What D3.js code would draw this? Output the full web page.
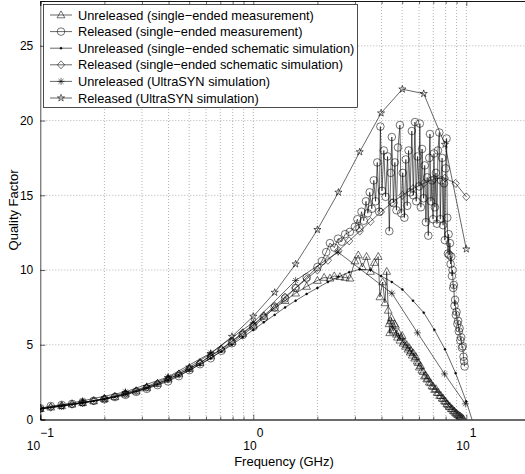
<!DOCTYPE html>
<html>
<head>
<meta charset="utf-8">
<script src="https://cdn.jsdelivr.net/npm/d3@7"></script>
<style>
  body { margin: 0; background: #fff; }
  svg { display: block; font-family: "Liberation Sans", Arial, sans-serif; }
</style>
</head>
<body>
<svg id="chart" width="525" height="474"></svg>
<script>
// series values, [frequency GHz, quality factor]
const unrelMeas = [
  [0.1,0.72],[0.112,0.82],[0.126,0.92],[0.141,1.02],[0.158,1.12],[0.178,1.24],[0.2,1.38],[0.224,1.52],
  [0.251,1.7],[0.282,1.9],[0.316,2.12],[0.355,2.4],[0.398,2.7],[0.447,3.05],[0.501,3.4],[0.562,3.8],
  [0.631,4.25],[0.708,4.7],[0.794,5.2],[0.891,5.75],[1,6.3],[1.12,6.9],[1.26,7.45],[1.41,7.95],
  [1.58,8.45],[1.78,8.9],[2,9.3],[2.15,9.5],[2.29,9.45],[2.4,9.6],[2.55,9.55],[2.7,9.5],[2.84,9.45],
  [3.0,10.6],[3.11,11.0],[3.25,10.2],[3.4,10.9],[3.55,9.9],[3.7,10.5],[3.86,10.9],[3.93,8.2],[4.05,9.2],
  [4.15,7.8],[4.23,9.9],[4.3,7.3],[4.34,6.4],[4.37,5.8],[4.41,6.6],[4.45,6.8],[4.5,6.0],[4.55,5.9],
  [4.6,6.4],[4.65,6.3],[4.7,5.7],[4.75,5.5],[4.81,5.8],[4.88,5.3],[4.94,5.5],[5.0,5.6],[5.05,5.1],
  [5.1,5.2],[5.18,4.9],[5.25,5.0],[5.32,4.7],[5.4,4.8],[5.45,4.5],[5.5,4.6],[5.57,4.3],[5.64,4.45],
  [5.72,4.1],[5.8,4.2],[5.88,3.9],[5.95,3.8],[6.02,3.5],[6.1,3.6],[6.18,3.3],[6.28,3.2],[6.36,2.9],
  [6.45,2.95],[6.52,2.7],[6.6,2.75],[6.7,2.5],[6.8,2.45],[6.9,2.25],[7.0,2.2],[7.1,2.0],[7.2,2.05],
  [7.3,1.8],[7.4,1.8],[7.5,1.6],[7.6,1.6],[7.7,1.42],[7.8,1.4],[7.9,1.25],[8.0,1.2],[8.1,1.05],
  [8.2,1.0],[8.3,0.88],[8.4,0.85],[8.5,0.72],[8.6,0.7],[8.7,0.58],[8.8,0.55],[8.9,0.45],[9.0,0.4],
  [9.1,0.33],[9.2,0.3],[9.3,0.22],[9.4,0.2],[9.5,0.13],[9.6,0.1],[9.7,0.02]
];
const relMeas = [
  [0.1,0.75],[0.112,0.9],[0.126,0.98],[0.141,1.05],[0.158,1.15],[0.178,1.25],[0.2,1.35],[0.224,1.5],
  [0.251,1.65],[0.282,1.85],[0.316,2.05],[0.355,2.3],[0.398,2.55],[0.447,2.9],[0.501,3.3],[0.562,3.7],
  [0.631,4.1],[0.708,4.6],[0.794,5.1],[0.891,5.65],[1,6.2],[1.12,6.8],[1.26,7.5],[1.41,8.1],
  [1.58,8.8],[1.78,9.5],[2,10.2],[2.1,10.6],[2.2,11.2],[2.29,11.8],[2.4,11.5],[2.5,12.1],[2.6,11.9],
  [2.7,12.4],[2.84,12.55],[3.0,12.9],[3.08,13.4],[3.15,12.8],[3.22,13.9],[3.3,13.3],[3.38,14.6],
  [3.45,13.8],[3.52,15.2],[3.6,14.1],[3.68,16.0],[3.75,14.6],[3.82,17.2],[3.9,13.9],[3.95,19.6],
  [4.02,15.3],[4.1,18.0],[4.18,14.9],[4.27,17.6],[4.35,12.6],[4.42,16.5],[4.47,18.9],[4.55,14.5],
  [4.62,17.2],[4.7,14.0],[4.78,18.2],[4.88,19.7],[4.95,13.8],[5.03,16.5],[5.12,13.5],[5.2,17.4],
  [5.28,14.3],[5.36,18.0],[5.45,15.2],[5.55,19.3],[5.64,15.0],[5.74,19.9],[5.82,14.6],[5.9,17.6],
  [6.0,15.6],[6.05,19.8],[6.12,14.2],[6.2,18.1],[6.3,14.8],[6.38,17.0],[6.46,13.2],[6.55,16.2],
  [6.63,12.3],[6.7,17.5],[6.75,19.1],[6.82,14.6],[6.9,16.0],[6.98,13.4],[7.05,17.8],[7.12,14.2],
  [7.2,16.5],[7.28,13.1],[7.36,18.0],[7.47,19.2],[7.55,13.4],[7.62,16.0],[7.7,17.5],[7.78,13.0],
  [7.86,15.8],[7.93,12.0],[8.0,16.8],[8.08,18.8],[8.14,13.5],[8.2,11.1],[8.26,12.4],[8.32,11.0],
  [8.38,11.8],[8.44,10.4],[8.5,10.9],[8.56,9.6],[8.62,10.0],[8.68,8.8],[8.74,9.0],[8.8,7.6],
  [8.86,8.0],[8.93,7.0],[9.0,7.2],[9.08,6.4],[9.15,6.6],[9.22,5.9],[9.3,6.1],[9.38,5.3],[9.46,5.5],
  [9.54,4.8],[9.62,4.9],[9.7,4.2],[9.76,3.9],[9.82,3.55]
];
const unrelSchem = [
  [0.1,0.7],[0.112,0.8],[0.126,0.9],[0.141,1.0],[0.158,1.1],[0.178,1.22],[0.2,1.36],[0.224,1.5],
  [0.251,1.68],[0.282,1.88],[0.316,2.1],[0.355,2.35],[0.398,2.62],[0.447,2.95],[0.501,3.3],[0.562,3.68],
  [0.631,4.1],[0.708,4.55],[0.794,5.0],[0.891,5.5],[1,6.0],[1.12,6.5],[1.26,7.0],[1.41,7.5],
  [1.58,7.95],[1.78,8.4],[2,8.8],[2.24,9.2],[2.51,9.55],[2.82,9.85],[3.16,10.05],[3.55,10.0],
  [3.98,9.6],[4.47,9.2],[5.01,8.7],[5.62,7.95],[6.31,7.15],[7.08,6.0],[7.94,4.7],[8.91,3.1],
  [10,1.2],[11.2,-1.0]
];
const relSchem = [
  [0.1,0.72],[0.112,0.82],[0.126,0.92],[0.141,1.02],[0.158,1.13],[0.178,1.25],[0.2,1.4],[0.224,1.55],
  [0.251,1.73],[0.282,1.93],[0.316,2.15],[0.355,2.42],[0.398,2.7],[0.447,3.03],[0.501,3.4],[0.562,3.8],
  [0.631,4.25],[0.708,4.72],[0.794,5.25],[0.891,5.8],[1,6.35],[1.12,6.95],[1.26,7.6],[1.41,8.2],
  [1.58,8.8],[1.78,9.4],[2,10.0],[2.24,10.65],[2.51,11.3],[2.82,11.95],[3.16,12.6],[3.55,13.25],
  [3.98,13.9],[4.47,14.5],[5.01,15.0],[5.62,15.45],[6.31,15.8],[7.08,16.1],[7.94,16.15],[8.91,15.8],
  [10,14.9]
];
const unrelUltra = [
  [0.1,0.7],[0.158,1.25],[0.251,1.85],[0.398,2.85],[0.631,4.45],[1,6.5],[1.58,9.3],[2.5,11.2],
  [4.47,8.45],[5.9,5.8],[7.9,3.05],[9.9,1.05]
];
const relUltra = [
  [0.1,0.72],[0.126,0.88],[0.158,1.1],[0.2,1.4],[0.251,1.78],[0.316,2.2],[0.398,2.8],[0.501,3.5],
  [0.631,4.4],[0.794,5.55],[1,6.9],[1.26,8.5],[1.58,10.4],[2,12.7],[2.51,15.2],[3.16,17.9],
  [3.98,20.5],[5.01,22.1],[6.31,21.8],[7.94,18.4],[10,11.4]
];

const seriesNames = [
  "Unreleased (single\u2212ended measurement)",
  "Released (single\u2212ended measurement)",
  "Unreleased (single\u2212ended schematic simulation)",
  "Released (single\u2212ended schematic simulation)",
  "Unreleased (UltraSYN simulation)",
  "Released (UltraSYN simulation)"
];
const seriesMarkers = ["triangle", "circle", "point", "diamond", "asterisk", "star"];
const yTicks = [0, 5, 10, 15, 20, 25];
const xDecades = [0.1, 1, 10];
const xDecadeExp = ["\u22121", "0", "1"];
const xMinor = [0.2,0.3,0.4,0.5,0.6,0.7,0.8,0.9,2,3,4,5,6,7,8,9];

const allSeries = [unrelMeas, relMeas, unrelSchem, relSchem, unrelUltra, relUltra];

const padLeft = 40.3, padBottom = 419.5, padTop = 1;
const x = d3.scaleLog().domain([0.1, 20]).range([padLeft, padLeft + 213 * Math.log10(200)]);
const y = d3.scaleLinear().domain([0, 28]).range([padBottom, padTop]);

const svg = d3.select("#chart");

svg.append("defs").append("clipPath").attr("id", "plotclip")
  .append("rect").attr("x", padLeft).attr("y", padTop)
  .attr("width", x(20) - padLeft).attr("height", padBottom - padTop);

// grid
const grid = svg.append("g").attr("stroke", "#808080").attr("stroke-width", 0.6).attr("stroke-dasharray", "1,2");
grid.selectAll(".gx").data(xDecades.concat(xMinor).filter(d => d > 0.1)).enter().append("line")
  .attr("x1", d => x(d)).attr("x2", d => x(d)).attr("y1", padTop).attr("y2", padBottom);
grid.selectAll(".gy").data(yTicks.filter(d => d > 0)).enter().append("line")
  .attr("x1", padLeft).attr("x2", x(20)).attr("y1", d => y(d)).attr("y2", d => y(d));

// axes
const axX = svg.append("g").attr("transform", `translate(0,${padBottom})`)
  .call(d3.axisBottom(x).tickValues(xDecades).tickSize(-5).tickFormat(""));
const axXm = svg.append("g").attr("transform", `translate(0,${padBottom})`)
  .call(d3.axisBottom(x).tickValues(xMinor).tickSize(-3).tickFormat(""));
const axXt = svg.append("g").attr("transform", `translate(0,${padTop})`)
  .call(d3.axisTop(x).tickValues(xDecades).tickSize(-5).tickFormat(""));
const axXtm = svg.append("g").attr("transform", `translate(0,${padTop})`)
  .call(d3.axisTop(x).tickValues(xMinor).tickSize(-3).tickFormat(""));
const axY = svg.append("g").attr("transform", `translate(${padLeft},0)`)
  .call(d3.axisLeft(y).tickValues(yTicks).tickSize(-5).tickPadding(7));
[axX, axXm, axXt, axXtm, axY].forEach(g => {
  g.select(".domain").attr("stroke", "#000").attr("stroke-width", 0.7);
  g.selectAll(".tick line").attr("stroke", "#000").attr("stroke-width", 0.6);
});
axY.selectAll(".tick text").attr("font-size", 12).attr("fill", "#000")
  .attr("font-family", "Liberation Sans, Arial, sans-serif");

// x decade labels 10^n
xDecades.forEach((d, i) => {
  const t = svg.append("text").attr("x", x(d)).attr("y", 450).attr("text-anchor", "middle")
    .attr("font-size", 12).attr("fill", "#000");
  t.append("tspan").text("10");
  t.append("tspan").attr("dy", -13).attr("font-size", 12).text(xDecadeExp[i]);
});

svg.append("text").attr("x", 284).attr("y", 466).attr("text-anchor", "middle")
  .attr("font-size", 13).text("Frequency (GHz)");
svg.append("text").attr("transform", "translate(18,210) rotate(-90)").attr("text-anchor", "middle")
  .attr("font-size", 13).text("Quality Factor");

// markers
function markerPath(type) {
  const r = 3.6;
  if (type === "triangle") return `M0,${-r-0.5}L${r+0.3},${r-0.8}L${-r-0.3},${r-0.8}Z`;
  if (type === "circle") return d3.symbol(d3.symbolCircle, Math.PI * 3.8 * 3.8)();
  if (type === "diamond") return `M0,${-r-0.4}L${r},0L0,${r+0.4}L${-r},0Z`;
  if (type === "asterisk") return `M${-r},0H${r}M0,${-r}V${r}M${-r*0.7},${-r*0.7}L${r*0.7},${r*0.7}M${-r*0.7},${r*0.7}L${r*0.7},${-r*0.7}`;
  if (type === "star") return d3.symbol(d3.symbolStar, 16)();
  return d3.symbol(d3.symbolCircle, 3)();
}

const plot = svg.append("g").attr("clip-path", "url(#plotclip)");
const line = d3.line().x(d => x(d[0])).y(d => y(d[1]));

allSeries.forEach((data, i) => {
  const g = plot.append("g");
  g.append("path").datum(data).attr("d", line).attr("fill", "none")
    .attr("stroke", "#000").attr("stroke-width", 0.6);
  const type = seriesMarkers[i];
  g.selectAll("path.m").data(data.filter(d => d[1] >= -0.3)).enter().append("path")
    .attr("class", "m")
    .attr("transform", d => `translate(${x(d[0])},${y(d[1])})`)
    .attr("d", markerPath(type))
    .attr("fill", type === "point" ? "#000" : "none")
    .attr("stroke", "#000").attr("stroke-width", type === "star" ? 0.6 : 0.55);
});

// legend
const lg = svg.append("g");
lg.append("rect").attr("x", 43.5).attr("y", 4.5).attr("width", 314).attr("height", 103)
  .attr("fill", "#fff").attr("stroke", "#000").attr("stroke-width", 0.7);
seriesNames.forEach((name, i) => {
  const ly = 15 + i * 16.6;
  lg.append("line").attr("x1", 50).attr("x2", 72).attr("y1", ly).attr("y2", ly)
    .attr("stroke", "#000").attr("stroke-width", 0.6);
  const type = seriesMarkers[i];
  lg.append("path").attr("transform", `translate(61,${ly})`).attr("d", markerPath(type))
    .attr("fill", type === "point" ? "#000" : "none").attr("stroke", "#000").attr("stroke-width", 0.55);
  lg.append("text").attr("x", 78).attr("y", ly + 4.5).attr("font-size", 12.8).attr("fill", "#000").text(name);
});
</script>
</body>
</html>
